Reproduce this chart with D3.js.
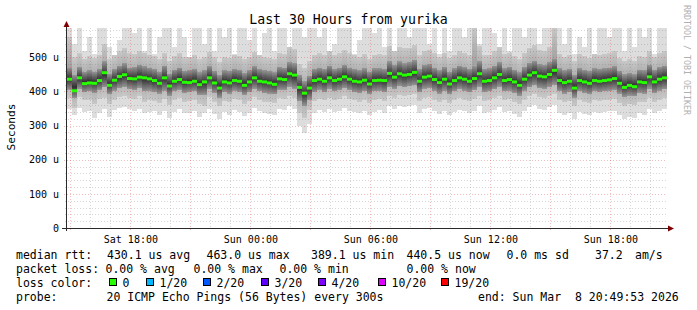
<!DOCTYPE html>
<html>
<head>
<meta charset="utf-8">
<script src="https://cdn.jsdelivr.net/npm/d3@7"></script>
<style>
  body { margin: 0; background: #fff; }
  svg { display: block; font-family: "DejaVu Sans Mono", monospace; }
  .title { font-size: 13.2px; }
  .ytitle { font-size: 11.2px; }
  .legend { font-size: 11.5px; white-space: pre; }
  .watermark { font-size: 8.3px; fill: #b0b0b0; }
</style>
</head>
<body>
<svg id="chart"></svg>
<script>
// 120 columns of 15 minutes, values in microseconds
const smokeMin = [
  348,330,352,340,344,322,338,350,326,346, 352,354,348,344,350,336,340,342,330,344,
  322,340,348,336,338,344,326,338,350,334, 318,340,332,346,340,328,338,352,342,336,
  334,330,348,346,356,348,300,278,306,338, 346,340,350,340,344,352,344,340,336,342,
  330,340,346,338,356,348,358,354,356,360, 338,350,352,342,334,342,330,340,346,342,
  336,344,356,336,340,346,354,340,344,334, 326,342,354,360,350,346,354,360,338,332,
  338,318,340,334,330,340,336,340,342,344, 330,320,326,322,336,332,350,336,342,348
];
const smokeP10 = [
  382,352,384,374,376,362,378,382,362,376, 384,388,382,378,386,368,376,372,366,378,
  360,374,380,370,372,376,364,358,384,370, 356,372,368,378,374,364,372,384,376,370,
  368,366,380,378,388,382,336,322,346,372, 378,374,382,374,378,386,378,374,370,376,
  366,374,378,372,388,382,390,386,390,392, 372,382,384,376,368,376,366,374,380,376,
  372,378,388,372,374,380,388,374,378,370, 362,376,386,392,384,382,388,394,374,368,
  372,356,376,370,366,374,372,374,376,378, 366,358,362,360,370,368,382,370,376,380
];
const smokeQ1 = [
  405,380,408,398,400,396,404,412,392,402, 410,414,408,404,410,400,402,398,394,402,
  388,400,404,396,398,400,390,390,408,396, 382,398,394,402,398,390,398,408,400,396,
  394,392,404,404,414,408,372,358,376,398, 404,398,408,400,404,410,404,398,396,400,
  392,400,402,398,414,408,416,412,416,418, 398,408,410,402,394,402,392,400,406,402,
  398,404,414,398,400,406,414,400,402,396, 388,402,412,418,410,408,414,420,400,394,
  398,382,400,396,392,400,398,400,402,404, 394,384,388,386,396,394,408,396,402,406
];
const median = [
  436,402,440,423,425,424,432,455,418,433, 444,449,438,437,442,440,437,432,424,440,
  416,430,435,427,426,430,420,428,440,425, 410,428,425,432,430,418,428,440,430,428,
  425,421,437,435,452,448,412,395,410,432, 436,430,440,432,436,443,436,430,428,433,
  422,432,433,432,453,442,452,448,450,456, 430,442,445,435,426,436,422,432,440,436,
  430,438,452,430,432,440,450,432,435,428, 418,436,448,455,445,443,450,462,432,426,
  430,410,432,428,424,432,430,432,434,438, 424,412,418,414,428,426,443,428,436,440
];
const smokeQ3 = [
  470,448,472,458,462,458,466,488,452,466, 476,482,470,472,478,474,470,466,458,476,
  452,464,470,460,462,466,456,462,474,460, 448,462,460,466,464,454,462,474,466,462,
  460,456,472,470,486,482,448,430,446,466, 470,466,476,466,470,478,470,466,462,468,
  458,468,468,466,488,478,488,482,486,492, 466,478,480,470,462,472,458,468,476,472,
  466,474,488,466,468,476,486,468,472,464, 456,472,484,490,480,478,486,496,468,462,
  466,448,468,464,460,468,466,468,470,474, 460,450,454,450,464,462,478,464,472,476
];
const smokeP90 = [
  560,500,512,496,504,498,508,540,494,506, 518,526,512,510,520,514,508,504,496,512,
  490,504,512,500,502,508,494,502,516,500, 486,502,498,508,504,494,502,516,506,500,
  498,494,512,510,530,524,480,470,488,508, 512,506,520,508,512,522,512,506,502,510,
  496,508,510,506,532,520,530,526,528,536, 506,520,522,512,502,514,498,508,518,514,
  506,590,532,506,508,518,530,510,514,504, 494,514,528,536,522,520,530,590,510,502,
  506,488,510,504,498,510,506,510,512,518, 498,490,494,490,504,500,520,502,512,518
];
const smokeMax = [
  590,540,590,520,560,510,590,590,530,500, 550,590,590,570,590,520,590,510,560,590,
  590,530,590,560,500,590,590,540,590,520, 590,560,590,510,590,590,550,590,500,570,
  590,520,590,590,500,590,590,560,590,590, 560,590,520,540,590,590,590,510,550,590,
  590,570,590,530,590,520,590,590,560,590, 590,590,540,590,510,590,520,590,590,560,
  590,590,540,590,590,570,510,590,520,590, 590,560,590,590,540,590,590,590,590,540,
  590,510,560,530,590,510,590,590,560,590, 590,520,590,530,590,560,590,510,590,590
];

const yTicks = [0, 100, 200, 300, 400, 500];
const rttStats = ["430.1 us avg", "463.0 us max", "389.1 us min", "440.5 us now", "0.0 ms sd", "37.2", "am/s"];
const lossStats = ["0.00 % avg", "0.00 % max", "0.00 % min", "0.00 % now"];
const lossLabels = ["0", "1/20", "2/20", "3/20", "4/20", "10/20", "19/20"];
const lossColors = ["#26ff00", "#00b8ff", "#0059ff", "#5e00ff", "#7e00ff", "#dd00ff", "#ff0000"];
const probeText = "20 ICMP Echo Pings (56 Bytes) every 300s";
const endText = "end: Sun Mar  8 20:49:53 2026";

const W = 697, H = 310;
const PLOT = {left: 67, right: 667, top: 28, bottom: 228};
const MINOR = "rgba(120,120,120,0.3)";
const MAJOR = "rgba(210,50,50,0.32)";

const svg = d3.select("#chart").attr("width", W).attr("height", H);

const tStart = new Date(Date.UTC(2026, 2, 7, 14, 49, 53));
const tEnd = new Date(Date.UTC(2026, 2, 8, 20, 49, 53));
const x = d3.scaleUtc().domain([tStart, tEnd]).range([PLOT.left, PLOT.right]);
const y = d3.scaleLinear().domain([0, 586]).range([PLOT.bottom, PLOT.top]);

const step = (tEnd - tStart) / median.length;
const colX0 = i => x(new Date(+tStart + i * step));
const colX1 = i => x(new Date(+tStart + (i + 1) * step));

svg.append("clipPath").attr("id", "plotclip")
  .append("rect")
  .attr("x", PLOT.left).attr("y", PLOT.top)
  .attr("width", PLOT.right - PLOT.left).attr("height", PLOT.bottom - PLOT.top);

const defs = svg.append("defs");
const core = defs.append("linearGradient").attr("id", "core")
  .attr("x1", 0).attr("y1", 0).attr("x2", 0).attr("y2", 1);
core.append("stop").attr("offset", "0%").attr("stop-color", "#959595");
core.append("stop").attr("offset", "50%").attr("stop-color", "#303030");
core.append("stop").attr("offset", "100%").attr("stop-color", "#959595");

const mid = defs.append("linearGradient").attr("id", "mid")
  .attr("x1", 0).attr("y1", 0).attr("x2", 0).attr("y2", 1);
mid.append("stop").attr("offset", "0%").attr("stop-color", "#c8c8c8");
mid.append("stop").attr("offset", "50%").attr("stop-color", "#a2a2a2");
mid.append("stop").attr("offset", "100%").attr("stop-color", "#c8c8c8");

// smoke: outer pings light, inner pings dark
const smoke = svg.append("g").attr("clip-path", "url(#plotclip)");
function band(lo, hi, fill) {
  smoke.append("g").selectAll("rect")
    .data(d3.range(median.length))
    .join("rect")
    .attr("x", i => colX0(i))
    .attr("width", i => colX1(i) - colX0(i))
    .attr("y", i => y(hi[i]))
    .attr("height", i => y(lo[i]) - y(hi[i]))
    .attr("fill", fill)
    .attr("shape-rendering", "crispEdges");
}
band(smokeMin, smokeMax, "#dddddd");
band(smokeP10, smokeP90, "url(#mid)");
band(smokeQ1, smokeQ3, "url(#core)");

// grid (rrdtool paints it over the graph)
const grid = svg.append("g").attr("stroke-dasharray", "1,2").attr("shape-rendering", "crispEdges");
const minorY = d3.range(20, 586, 20).filter(v => v % 100 !== 0);
grid.selectAll(".gy").data(minorY).join("line")
  .attr("x1", PLOT.left - 2).attr("x2", PLOT.right)
  .attr("y1", d => y(d) + 0.5).attr("y2", d => y(d) + 0.5)
  .attr("stroke", MINOR);
grid.selectAll(".my").data(yTicks.filter(v => v > 0)).join("line")
  .attr("x1", PLOT.left - 3).attr("x2", PLOT.right)
  .attr("y1", d => y(d) + 0.5).attr("y2", d => y(d) + 0.5)
  .attr("stroke", MAJOR);

const hours = x.ticks(d3.utcHour.every(1));
grid.selectAll(".gx").data(hours).join("line")
  .attr("x1", d => Math.round(x(d)) + 0.5).attr("x2", d => Math.round(x(d)) + 0.5)
  .attr("y1", PLOT.top)
  .attr("y2", d => d.getUTCHours() % 3 === 0 ? PLOT.bottom + 3 : PLOT.bottom)
  .attr("stroke", d => d.getUTCHours() % 3 === 0 ? MAJOR : MINOR);

// median as small blocks in loss colour
svg.append("g").attr("clip-path", "url(#plotclip)")
  .selectAll("rect")
  .data(median)
  .join("rect")
  .attr("x", (d, i) => colX0(i))
  .attr("width", (d, i) => colX1(i) - colX0(i))
  .attr("y", d => y(d) - 1.5)
  .attr("height", 3)
  .attr("fill", lossColors[0]);

// axes
const axisColor = "#2a2a2a";
svg.append("line")
  .attr("x1", PLOT.left - 5).attr("x2", PLOT.right + 3)
  .attr("y1", PLOT.bottom + 0.5).attr("y2", PLOT.bottom + 0.5)
  .attr("stroke", axisColor);
svg.append("line")
  .attr("x1", PLOT.left - 0.5).attr("x2", PLOT.left - 0.5)
  .attr("y1", PLOT.bottom + 3).attr("y2", PLOT.top - 4)
  .attr("stroke", axisColor);
svg.append("path")
  .attr("d", `M${PLOT.right + 7},${PLOT.bottom + 0.5}L${PLOT.right + 1},${PLOT.bottom - 2.5}L${PLOT.right + 1},${PLOT.bottom + 3.5}Z`)
  .attr("fill", "#7f0000");
svg.append("path")
  .attr("d", `M${PLOT.left - 0.5},${PLOT.top - 7}L${PLOT.left - 3.5},${PLOT.top - 1}L${PLOT.left + 2.5},${PLOT.top - 1}Z`)
  .attr("fill", "#7f0000");

// y labels
svg.append("g")
  .attr("transform", `translate(${PLOT.left},0)`)
  .call(d3.axisLeft(y).tickValues(yTicks).tickSize(0).tickPadding(8)
    .tickFormat(d => d === 0 ? "0" : d + " u"))
  .call(g => g.select(".domain").remove())
  .selectAll("text")
    .attr("font-family", "DejaVu Sans Mono")
    .attr("font-size", "10px")
    .attr("fill", "#000");

// x labels
const labelHours = hours.filter(d => d.getUTCHours() % 6 === 0);
svg.append("g")
  .attr("transform", `translate(0,${PLOT.bottom})`)
  .call(d3.axisBottom(x).tickValues(labelHours).tickSize(0).tickPadding(8)
    .tickFormat(d3.utcFormat("%a %H:%M")))
  .call(g => g.select(".domain").remove())
  .selectAll("text")
    .attr("font-family", "DejaVu Sans Mono")
    .attr("font-size", "10px")
    .attr("fill", "#000");

svg.append("text")
  .attr("class", "title")
  .attr("x", W / 2).attr("y", 24)
  .attr("text-anchor", "middle")
  .text("Last 30 Hours from yurika");

svg.append("text")
  .attr("class", "ytitle")
  .attr("transform", "translate(15,127) rotate(-90)")
  .attr("text-anchor", "middle")
  .text("Seconds");

svg.append("text")
  .attr("class", "watermark")
  .attr("transform", "translate(684,5) rotate(90)")
  .text("RRDTOOL / TOBI OETIKER");

// legend
const legend = svg.append("g").attr("class", "legend");
const rowY = [259, 272.5, 286.5, 300.5];
function put(txt, px, py) {
  legend.append("text").attr("x", px).attr("y", py).attr("xml:space", "preserve").text(txt);
}

put("median rtt:", 16, rowY[0]);
[107, 206.5, 311, 406.5, 506.5, 595, 635].forEach((px, i) => put(rttStats[i], px, rowY[0]));

put("packet loss:", 16, rowY[1]);
[105.5, 193.5, 279.5, 406.5].forEach((px, i) => put(lossStats[i], px, rowY[1]));

put("loss color:", 16, rowY[2]);
const boxX = [109.5, 146.5, 203.5, 261.5, 318.5, 378.5, 441.5];
boxX.forEach((px, i) => {
  legend.append("rect")
    .attr("x", px).attr("y", rowY[2] - 8)
    .attr("width", 7).attr("height", 7)
    .attr("fill", lossColors[i])
    .attr("stroke", "#000");
  put(lossLabels[i], px + 13, rowY[2]);
});

put("probe:", 16, rowY[3]);
put(probeText, 106.5, rowY[3]);
put(endText, 478, rowY[3]);
</script>
</body>
</html>
